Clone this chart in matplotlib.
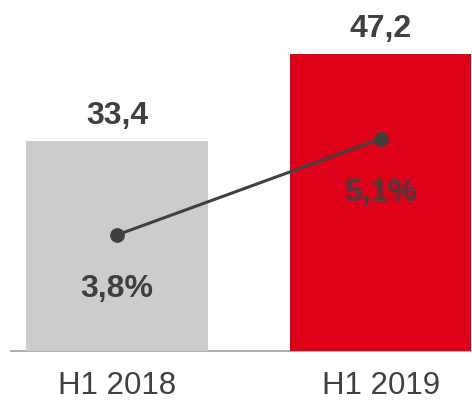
import matplotlib
matplotlib.use("Agg")
import matplotlib.pyplot as plt

categories = ["H1 2018", "H1 2019"]
bar_values = [33.4, 47.2]
bar_labels = ["33,4", "47,2"]
pct_values = [3.8, 5.1]
pct_labels = ["3,8%", "5,1%"]
bar_colors = ["#CCCCCC", "#DE0018"]

plt.rcParams['font.family'] = ['Liberation Sans', 'DejaVu Sans']
TEXT = "#404040"

fig = plt.figure(figsize=(4.72, 4.01), dpi=100)
ax = fig.add_axes([10.7 / 472, 50.5 / 401, (471 - 10.7) / 472, 350.5 / 401])
x = list(range(len(categories)))

ax.bar(x, bar_values, width=0.69, color=bar_colors, zorder=3)
ax.set_xlim(-0.403, 1.343)
ax.set_ylim(0, 55.8)
ax.axhline(0, color="#A0A0A0", lw=1.2, zorder=2, clip_on=False)
for s in ax.spines.values():
    s.set_visible(False)
ax.set_yticks([])
ax.set_xticks(x)
ax.set_xticklabels(categories, fontsize=22.5, color=TEXT)
ax.tick_params(axis='x', length=0, pad=15)

for xi, v, lab in zip(x, bar_values, bar_labels):
    ax.annotate(lab, (xi, v), xytext=(0, 17), textcoords='offset pixels',
                ha='center', va='baseline', fontsize=23, fontweight='bold',
                color=TEXT, zorder=5)

ax2 = ax.twinx()
ax2.set_ylim(2.236, 6.98)
ax2.axis('off')
ax2.plot(x, pct_values, color=TEXT, lw=2.2, marker='o', markersize=9.6,
         zorder=4)
for xi, v, lab in zip(x, pct_values, pct_labels):
    ax2.annotate(lab, (xi, v), xytext=(0, -62), textcoords='offset pixels',
                 ha='center', va='baseline', fontsize=23, fontweight='bold',
                 color=TEXT, zorder=5)

fig.savefig("out.png", dpi=100)
